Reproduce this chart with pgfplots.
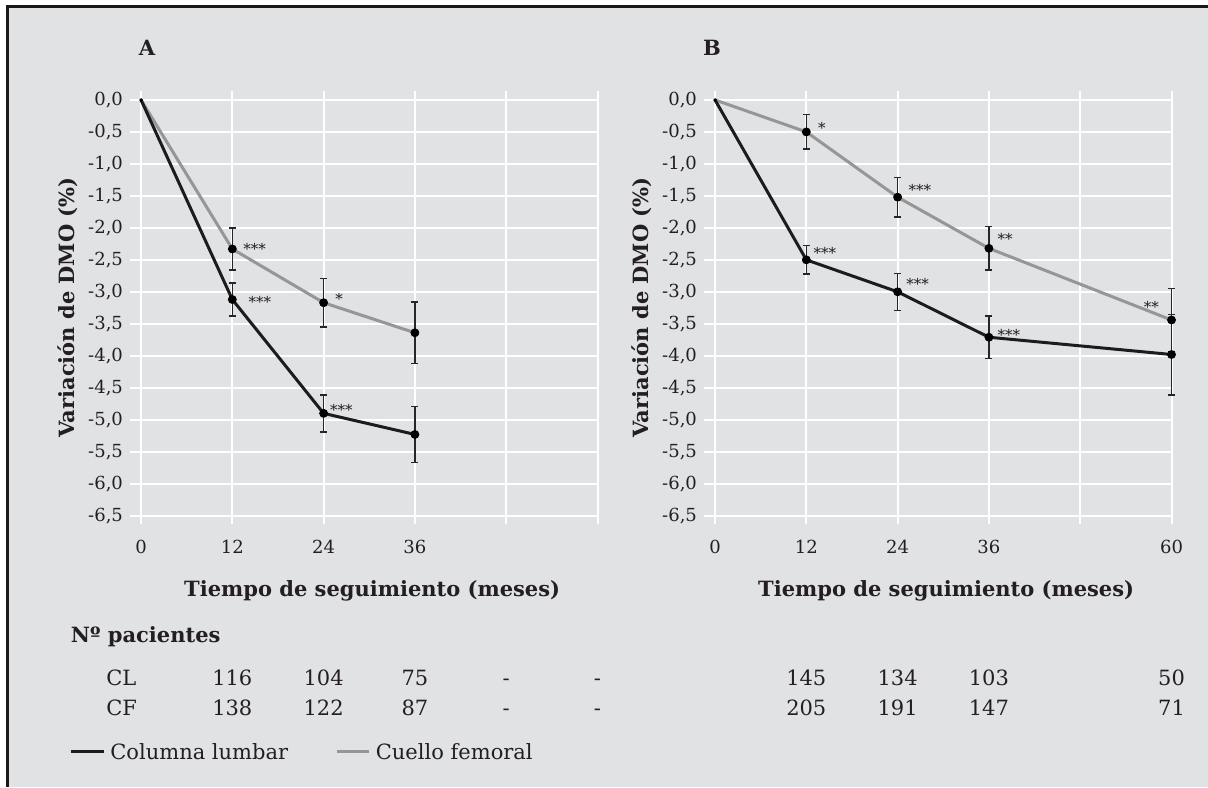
\documentclass[border=0pt]{standalone}
\usepackage{fontspec}
\setmainfont{DejaVu Serif}
\usepackage{pgfplots}
\usepackage{pgfplotstable}
\pgfplotsset{compat=1.18}
\definecolor{bg}{RGB}{225,226,228}
\definecolor{cfgray}{RGB}{150,150,150}
\definecolor{clblack}{RGB}{28,28,28}
\definecolor{txt}{RGB}{35,31,32}

\pgfplotstableread{
x y e
0 0 0
12 -3.12 0.26
24 -4.90 0.29
36 -5.23 0.44
}\clA
\pgfplotstableread{
x y e
0 0 0
12 -2.33 0.33
24 -3.17 0.38
36 -3.64 0.48
}\cfA
\pgfplotstableread{
x y e
0 0 0
12 -2.50 0.22
24 -3.00 0.29
36 -3.71 0.33
60 -3.98 0.63
}\clB
\pgfplotstableread{
x y e
0 0 0
12 -0.50 0.27
24 -1.52 0.31
36 -2.32 0.34
60 -3.44 0.49
}\cfB

\newcommand\fs[1]{\fontsize{#1}{#1}\selectfont}

\tikzset{star/.style={anchor=west, inner sep=0pt, font=\fs{7.5}, text=txt, yshift=-1.5pt}}

\pgfplotsset{
 panel/.style={
  scale only axis, width=233.75pt, height=216.5pt,
  anchor=south west,
  xmin=-1.45, xmax=60, ymin=-6.63, ymax=0.14,
  axis line style={draw=none}, tick style={draw=none},
  grid=major, major grid style={white, line width=1pt},
  xtick={0,12,24,36,48,60},
  ytick={0,-0.5,-1,-1.5,-2,-2.5,-3,-3.5,-4,-4.5,-5,-5.5,-6,-6.5},
  yticklabels={{0,0},{-0,5},{-1,0},{-1,5},{-2,0},{-2,5},{-3,0},{-3,5},{-4,0},{-4,5},{-5,0},{-5,5},{-6,0},{-6,5}},
  ticklabel style={font=\fs{9}, text=txt},
  xticklabel style={yshift=-4.5pt},
  clip=false,
  xlabel={Tiempo de seguimiento (meses)},
  ylabel={Variación de DMO (\%)},
  xlabel style={at={(axis description cs:0.518,-0.1663)}, anchor=base, font=\fs{10.5}\bfseries, text=txt},
  ylabel style={at={(axis description cs:-0.1337,0.5)}, anchor=center, font=\fs{10.5}\bfseries, text=txt},
 },
 cfline/.style={cfgray, line width=1.5pt, mark=none},
 clline/.style={clblack, line width=1.5pt, mark=none},
 dots/.style={forget plot, only marks, mark=*, mark size=0.55pt, mark options={draw=none, fill=black}},
 ebars/.style={forget plot, only marks, mark=none, skip coords between index={0}{1},
  error bars/.cd, y dir=both, y explicit,
  error bar style={black!85, line width=0.7pt},
  error mark options={rotate=90, black!85, mark size=1.75pt, line width=0.7pt}},
}

\begin{document}
\begin{tikzpicture}
\useasboundingbox (0,0) rectangle (604pt,393.5pt);
\fill[white] (0,0) rectangle (604pt,393.5pt);
\fill[bg] (3.5pt,0) rectangle (604pt,390.25pt);
\draw[black!90, line width=1.5pt] (3.5pt,0) -- (3.5pt,390.25pt) -- (604pt,390.25pt);

% Panel A
\begin{axis}[panel, at={(65pt,131.5pt)}, xticklabels={0,12,24,36,,}]
\addplot[cfline] table[x=x,y=y] {\cfA};
\addplot[ebars] table[x=x,y=y,y error=e] {\cfA};
\addplot[clline] table[x=x,y=y] {\clA};
\addplot[ebars] table[x=x,y=y,y error=e] {\clA};
\addplot[dots] table[x=x,y=y] {\cfA};
\addplot[dots] table[x=x,y=y] {\clA};
\node[star] at (axis cs:13.4,-2.28) {***};
\node[star] at (axis cs:14.1,-3.11) {***};
\node[star] at (axis cs:25.5,-3.06) {*};
\node[star] at (axis cs:24.8,-4.80) {***};
\end{axis}

% Panel B
\begin{axis}[panel, at={(352pt,131.5pt)}, xticklabels={0,12,24,36,,60}]
\addplot[cfline] table[x=x,y=y] {\cfB};
\addplot[ebars] table[x=x,y=y,y error=e] {\cfB};
\addplot[clline] table[x=x,y=y] {\clB};
\addplot[ebars] table[x=x,y=y,y error=e] {\clB};
\addplot[dots] table[x=x,y=y] {\cfB};
\addplot[dots] table[x=x,y=y] {\clB};
\node[star] at (axis cs:13.5,-0.39) {*};
\node[star] at (axis cs:25.4,-1.36) {***};
\node[star] at (axis cs:37.1,-2.12) {**};
\node[star] at (axis cs:12.9,-2.34) {***};
\node[star] at (axis cs:25.1,-2.83) {***};
\node[star] at (axis cs:37.1,-3.63) {***};
\node[star] at (axis cs:56.3,-3.19) {**};
\end{axis}

% Panel letters
\node[font=\fs{10.5}\bfseries, text=txt] at (73.5pt,369.5pt) {A};
\node[font=\fs{10.5}\bfseries, text=txt] at (356pt,369.5pt) {B};

% Patients table
\node[anchor=base west, inner sep=0pt, font=\fs{10.5}\bfseries, text=txt] at (35.25pt,72.5pt) {Nº pacientes};
\begin{scope}[every node/.style={anchor=base, inner sep=0pt, font=\fs{10.5}, text=txt}]
\node[anchor=base west] at (53pt,50.75pt) {CL};
\node[anchor=base west] at (53pt,35.75pt) {CF};
\node at (116.15pt,50.75pt) {116}; \node at (116.15pt,35.75pt) {138};
\node at (161.8pt,50.75pt) {104};  \node at (161.8pt,35.75pt) {122};
\node at (207.45pt,50.75pt) {75};  \node at (207.45pt,35.75pt) {87};
\node at (253.1pt,50.75pt) {-};    \node at (253.1pt,35.75pt) {-};
\node at (298.75pt,50.75pt) {-};   \node at (298.75pt,35.75pt) {-};
\node at (403.15pt,50.75pt) {145}; \node at (403.15pt,35.75pt) {205};
\node at (448.8pt,50.75pt) {134};  \node at (448.8pt,35.75pt) {191};
\node at (494.45pt,50.75pt) {103}; \node at (494.45pt,35.75pt) {147};
\node at (585.75pt,50.75pt) {50};  \node at (585.75pt,35.75pt) {71};
\end{scope}

% Legend
\draw[clblack, line width=1.5pt] (35.25pt,18pt) -- (52pt,18pt);
\node[anchor=base west, inner sep=0pt, font=\fs{10.5}, text=txt] at (55pt,14pt) {Columna lumbar};
\draw[cfgray, line width=1.5pt] (168.5pt,18pt) -- (184.5pt,18pt);
\node[anchor=base west, inner sep=0pt, font=\fs{10.5}, text=txt] at (187.75pt,14pt) {Cuello femoral};
\end{tikzpicture}
\end{document}
